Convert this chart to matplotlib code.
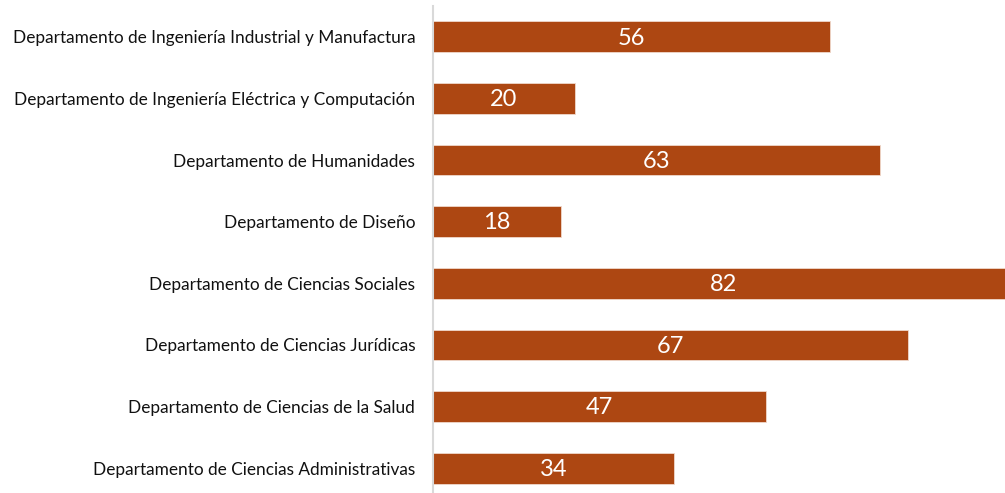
import matplotlib
matplotlib.use("Agg")
import matplotlib.pyplot as plt

categories = [
    "Departamento de Ciencias Administrativas",
    "Departamento de Ciencias de la Salud",
    "Departamento de Ciencias Jurídicas",
    "Departamento de Ciencias Sociales",
    "Departamento de Diseño",
    "Departamento de Humanidades",
    "Departamento de Ingeniería Eléctrica y Computación",
    "Departamento de Ingeniería Industrial y Manufactura",
]
values = [34, 47, 67, 82, 18, 63, 20, 56]

plt.rcParams['font.family'] = ['Lato', 'DejaVu Sans']

fig = plt.figure(figsize=(10.05, 4.93), dpi=100)
W, H = 1005, 493
ax = fig.add_axes([433 / W, -6 / H, 1 - 433 / W, 493 / H])

y = list(range(len(categories)))
bars = ax.barh(y, values, height=0.5, color="#AD4712", edgecolor="#F0D8CC", linewidth=0.6)
ax.set_xlim(0, 572 / 7.09)
ax.set_ylim(-0.5, 7.5)
ax.set_yticks(y)
ax.set_yticklabels(categories, fontsize=12.45, color="#111111")
ax.tick_params(axis='y', length=0, pad=12.8)
ax.set_xticks([])
for s in ["top", "right", "bottom"]:
    ax.spines[s].set_visible(False)
ax.spines["left"].set_color("#D9D9D9")
ax.spines["left"].set_linewidth(1.5)

for yi, v in zip(y, values):
    ax.text(v / 2, yi - 0.02, str(v), ha="center", va="center", color="white", fontsize=17, clip_on=False)

fig.savefig("out.png", dpi=100)
